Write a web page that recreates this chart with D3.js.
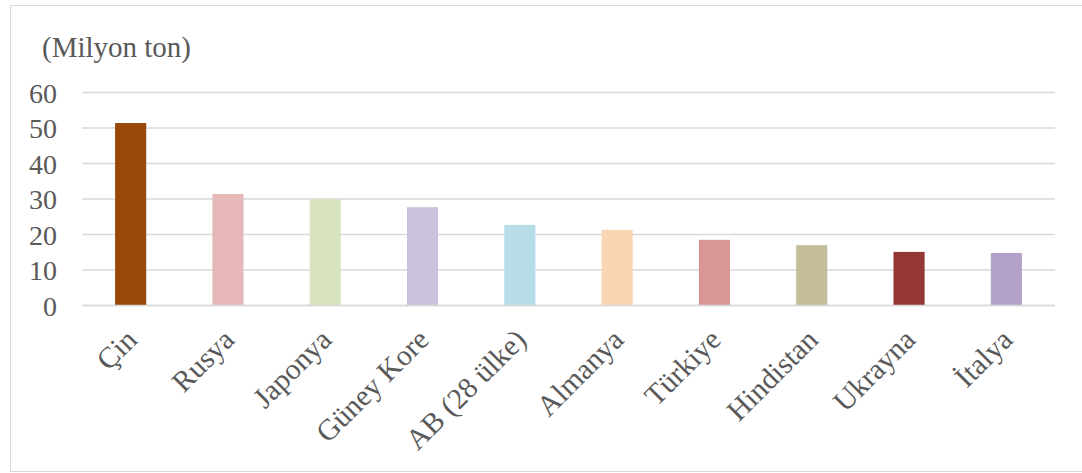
<!DOCTYPE html>
<html>
<head>
<meta charset="utf-8">
<script src="https://cdn.jsdelivr.net/npm/d3@7"></script>
<style>
  html, body { margin: 0; padding: 0; background: #fff; }
  svg { display: block; }
  text { font-family: "Liberation Serif", "Times New Roman", serif; fill: #595959; }
</style>
</head>
<body>
<svg id="chart" width="1082" height="473"></svg>
<script>
// Ülkelere göre ham çelik üretimi (milyon ton)
const countries = ["Çin", "Rusya", "Japonya", "Güney Kore", "AB (28 ülke)", "Almanya", "Türkiye", "Hindistan", "Ukrayna", "İtalya"];
const values = [51.4, 31.4, 29.9, 27.7, 22.7, 21.3, 18.5, 17.0, 15.1, 14.8];
const barColors = ["#984807", "#E6B9B8", "#D7E4BD", "#CCC1DA", "#B7DEE8", "#FCD5B5", "#D99694", "#C4BD97", "#953735", "#B3A2C7"];
const yTicks = [0, 10, 20, 30, 40, 50, 60];
const unitLabel = "(Milyon ton)";

const svg = d3.select("#chart");
const W = 1082, H = 473;
const plot = { left: 82, right: 1055, top: 92.5, bottom: 305.5 };

// chart area frame
svg.append("rect")
  .attr("x", 10.5).attr("y", 5.5)
  .attr("width", W + 10).attr("height", 466)
  .attr("fill", "#fff").attr("stroke", "#d9d9d9").attr("stroke-width", 1);

const x = d3.scaleBand().domain(countries).range([plot.left, plot.right]).paddingInner(0.68).paddingOuter(0.34);
const y = d3.scaleLinear().domain([0, 60]).range([plot.bottom, plot.top]);

// horizontal gridlines
svg.append("g").selectAll("line").data(yTicks).join("line")
  .attr("x1", plot.left).attr("x2", plot.right)
  .attr("y1", d => y(d)).attr("y2", d => y(d))
  .attr("stroke", "#d9d9d9").attr("stroke-width", 1.5);

// y axis labels
const yAxis = d3.axisLeft(y).tickValues(yTicks).tickSize(0).tickPadding(0);
const gy = svg.append("g").attr("transform", `translate(57,0)`).call(yAxis);
gy.select(".domain").remove();
gy.selectAll("text")
  .attr("font-size", 28)
  .attr("dy", "0.34em")
  .attr("font-family", "Liberation Serif, Times New Roman, serif")
  .attr("fill", "#595959");

// bars
svg.append("g").selectAll("rect").data(countries).join("rect")
  .attr("x", d => x(d))
  .attr("width", x.bandwidth())
  .attr("y", (d, i) => y(values[i]))
  .attr("height", (d, i) => y(0) - y(values[i]))
  .attr("fill", (d, i) => barColors[i]);

// baseline drawn over bars
svg.append("line")
  .attr("x1", plot.left).attr("x2", plot.right)
  .attr("y1", y(0)).attr("y2", y(0))
  .attr("stroke", "#d9d9d9").attr("stroke-width", 1.5);

// category labels, rotated
svg.append("g").selectAll("text").data(countries).join("text")
  .attr("transform", d => `translate(${x(d) + x.bandwidth() / 2 + 8},${y(0) + 36}) rotate(-45)`)
  .attr("text-anchor", "end")
  .attr("font-size", 29.5)
  .text(d => d);

// unit label
svg.append("text")
  .attr("x", 42).attr("y", 57)
  .attr("font-size", 29)
  .text(unitLabel);
</script>
</body>
</html>
